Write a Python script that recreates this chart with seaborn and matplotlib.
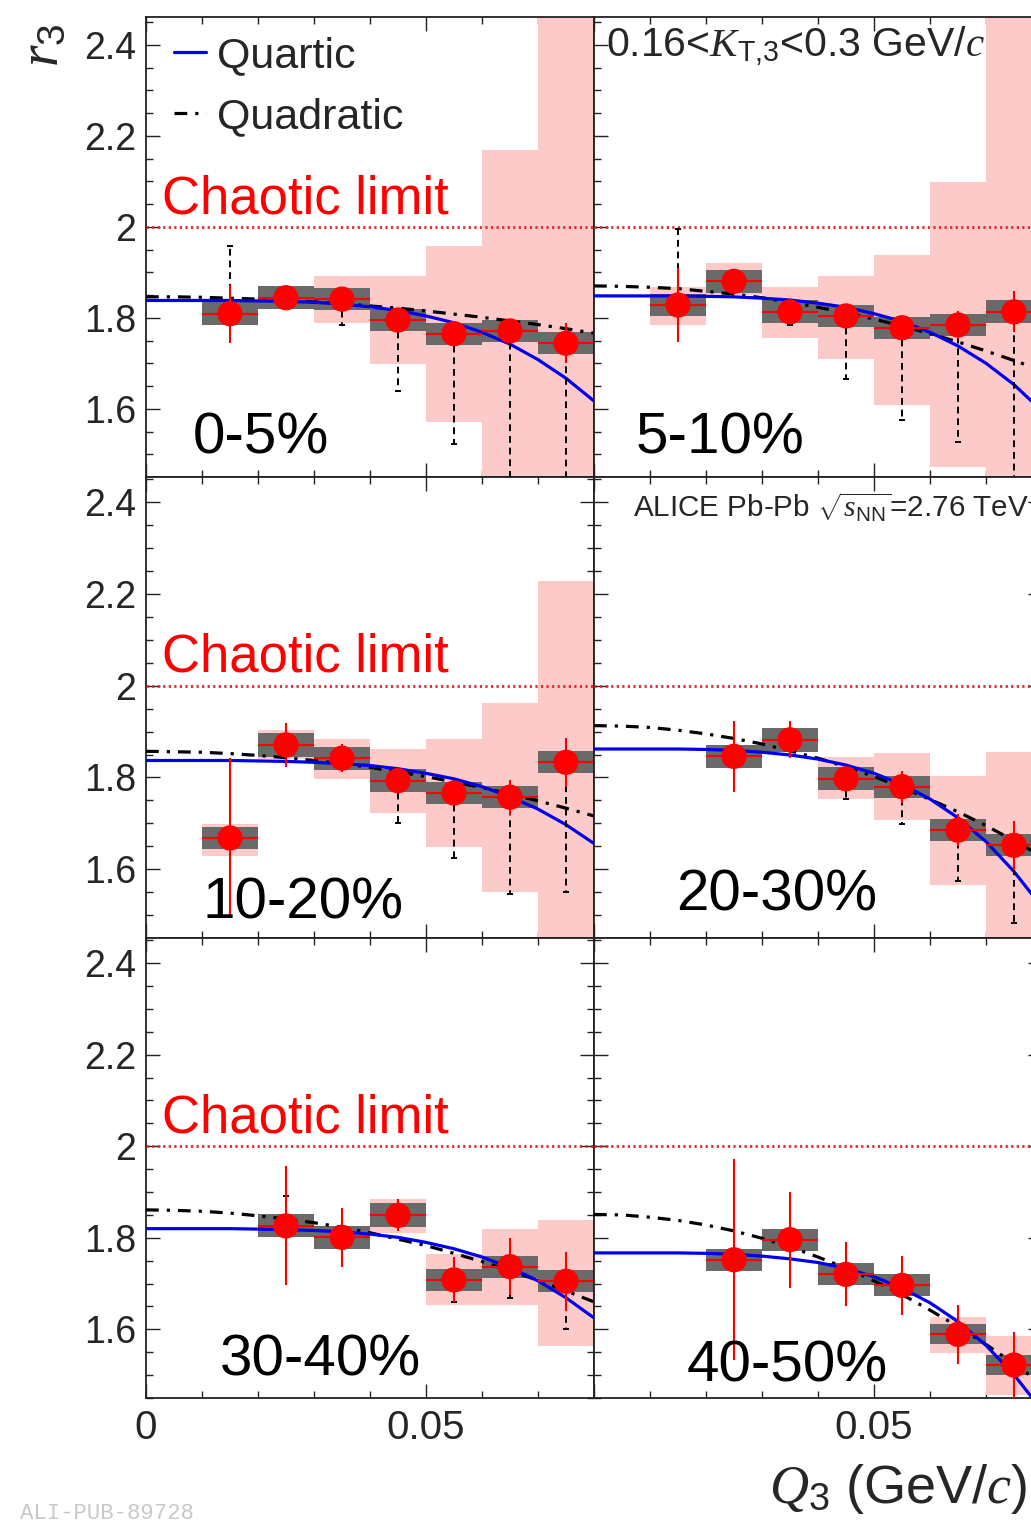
import numpy as np
import matplotlib
matplotlib.use("Agg")
import matplotlib.pyplot as plt
import seaborn as sns
from matplotlib.ticker import FixedLocator, MultipleLocator, FuncFormatter

sns.set_theme(style="ticks")
plt.rcParams['font.family'] = ['Liberation Sans', 'DejaVu Sans']
plt.rcParams['mathtext.fontset'] = 'custom'
plt.rcParams['mathtext.rm'] = 'Liberation Sans'
plt.rcParams['mathtext.it'] = 'Liberation Serif:italic'
plt.rcParams['mathtext.bf'] = 'Liberation Sans:bold'

nan = np.nan

# ---------------- data ----------------
centralities = ['0-5%', '5-10%', '10-20%', '20-30%', '30-40%', '40-50%']
q_centers = [0.015, 0.025, 0.035, 0.045, 0.055, 0.065, 0.075]
bin_width = 0.01

r3_values = [
    [1.809, 1.844, 1.841, 1.795, 1.765, 1.771, 1.744],
    [1.828, 1.880, 1.813, 1.804, 1.778, 1.784, 1.813],
    [1.668, 1.871, 1.842, 1.793, 1.766, 1.757, 1.833],
    [nan, 1.846, 1.882, 1.797, 1.780, 1.685, 1.652],
    [nan, 1.826, 1.801, 1.849, 1.708, 1.737, 1.705],
    [nan, 1.752, 1.796, 1.720, 1.696, 1.589, 1.522],
]
stat_err = [
    [0.064, 0.020, 0.020, 0.020, 0.020, 0.025, 0.044],
    [0.082, 0.026, 0.020, 0.020, 0.020, 0.030, 0.045],
    [0.175, 0.048, 0.030, 0.020, 0.020, 0.038, 0.053],
    [nan, 0.078, 0.040, 0.020, 0.035, 0.035, 0.053],
    [nan, 0.130, 0.065, 0.035, 0.049, 0.062, 0.064],
    [nan, 0.220, 0.105, 0.070, 0.064, 0.065, 0.072],
]
sys_err = [
    [0.025, 0.025, 0.025, 0.025, 0.024, 0.024, 0.024],
    [0.025, 0.025, 0.025, 0.024, 0.024, 0.024, 0.025],
    [0.024, 0.026, 0.025, 0.025, 0.024, 0.024, 0.024],
    [nan, 0.025, 0.026, 0.025, 0.024, 0.024, 0.024],
    [nan, 0.025, 0.025, 0.026, 0.024, 0.024, 0.024],
    [nan, 0.024, 0.024, 0.024, 0.024, 0.022, 0.021],
]
# second (pink) systematic band: low / high edge per bin
pink_low = [
    [nan, nan, 1.788, 1.699, 1.570, 1.400, 1.400],
    [1.784, 1.850, 1.756, 1.710, 1.609, 1.471, 1.400],
    [1.628, 1.840, 1.797, 1.723, 1.649, 1.551, 1.400],
    [nan, nan, nan, 1.754, 1.707, 1.566, 1.400],
    [nan, nan, nan, 1.811, 1.653, 1.653, 1.563],
    [nan, nan, nan, nan, nan, 1.549, 1.457],
]
pink_high = [
    [nan, nan, 1.891, 1.891, 1.958, 2.168, 2.600],
    [1.868, 1.920, 1.868, 1.892, 1.939, 2.098, 2.600],
    [1.699, 1.903, 1.884, 1.861, 1.883, 1.963, 2.228],
    [nan, nan, nan, 1.845, 1.854, 1.803, 1.856],
    [nan, nan, nan, 1.884, 1.765, 1.819, 1.838],
    [nan, nan, nan, nan, nan, 1.628, 1.585],
]
# end point of the dashed black error bars
dash_end = [
    [1.958, nan, 1.784, 1.639, 1.523, 1.400, 1.400],
    [1.996, nan, 1.784, 1.666, 1.575, 1.527, 1.400],
    [nan, nan, nan, 1.701, 1.624, 1.545, 1.551],
    [nan, nan, nan, 1.752, 1.699, 1.574, 1.482],
    [nan, 1.891, nan, nan, 1.659, 1.668, 1.601],
    [nan, nan, nan, nan, nan, nan, nan],
]

q_fit = [0.0, 0.005, 0.01, 0.015, 0.02, 0.025, 0.03, 0.035, 0.04,
         0.045, 0.05, 0.055, 0.06, 0.065, 0.07, 0.075, 0.08]
quartic_fit = [
    [1.838, 1.838, 1.838, 1.838, 1.837, 1.836, 1.834, 1.830, 1.824, 1.816, 1.804, 1.789, 1.768, 1.742, 1.708, 1.667, 1.617],
    [1.848, 1.848, 1.848, 1.848, 1.847, 1.846, 1.843, 1.839, 1.832, 1.823, 1.809, 1.792, 1.768, 1.738, 1.700, 1.653, 1.595],
    [1.837, 1.837, 1.837, 1.837, 1.836, 1.835, 1.833, 1.830, 1.826, 1.819, 1.809, 1.797, 1.780, 1.758, 1.731, 1.697, 1.656],
    [1.862, 1.862, 1.862, 1.862, 1.861, 1.859, 1.855, 1.849, 1.840, 1.827, 1.809, 1.785, 1.753, 1.712, 1.660, 1.595, 1.517],
    [1.820, 1.820, 1.820, 1.820, 1.819, 1.818, 1.816, 1.813, 1.808, 1.801, 1.790, 1.776, 1.758, 1.735, 1.706, 1.669, 1.625],
    [1.767, 1.767, 1.767, 1.767, 1.766, 1.764, 1.760, 1.754, 1.746, 1.733, 1.715, 1.690, 1.658, 1.617, 1.565, 1.501, 1.423],
]
quadratic_fit = [
    [1.846, 1.846, 1.845, 1.843, 1.841, 1.838, 1.835, 1.831, 1.826, 1.821, 1.815, 1.808, 1.801, 1.793, 1.785, 1.776, 1.766],
    [1.870, 1.869, 1.867, 1.864, 1.858, 1.852, 1.844, 1.834, 1.823, 1.811, 1.797, 1.782, 1.765, 1.747, 1.727, 1.706, 1.684],
    [1.857, 1.856, 1.855, 1.852, 1.848, 1.843, 1.837, 1.830, 1.822, 1.812, 1.802, 1.790, 1.778, 1.764, 1.749, 1.733, 1.716],
    [1.913, 1.912, 1.909, 1.903, 1.895, 1.885, 1.873, 1.858, 1.842, 1.823, 1.802, 1.778, 1.752, 1.725, 1.695, 1.662, 1.628],
    [1.861, 1.860, 1.858, 1.854, 1.848, 1.841, 1.833, 1.823, 1.811, 1.797, 1.783, 1.766, 1.748, 1.728, 1.707, 1.684, 1.660],
    [1.851, 1.850, 1.845, 1.838, 1.828, 1.815, 1.799, 1.780, 1.758, 1.734, 1.706, 1.676, 1.642, 1.606, 1.567, 1.525, 1.480],
]
chaotic_limit = 2.0
y_ticks = [1.6, 1.8, 2.0, 2.2, 2.4]
x_ticks = [0.0, 0.05]

# label placement (data coords: x, baseline y)
cent_pos = [(0.0084, 1.502), (0.0075, 1.501), (0.0101, 1.493),
            (0.0147, 1.511), (0.0132, 1.500), (0.0165, 1.485)]

# ---------------- figure ----------------
W, H = 1031, 1521
fig = plt.figure(figsize=(W / 100, H / 100), dpi=100)
col_left = [146, 594]
row_top = [17, 477, 938]
row_h = [460, 461, 460]
y_top = [2.461, 2.455, 2.455]
ax_w = 448

PINK = '#fdcaca'
GRAY = '#6a6a6a'
BLUE = '#0000ee'

for i, cent in enumerate(centralities):
    r, c = divmod(i, 2)
    ax = fig.add_axes([col_left[c] / W, 1 - (row_top[r] + row_h[r]) / H,
                       ax_w / W, row_h[r] / H])
    ax.set_xlim(0, 0.08)
    ax.set_ylim(1.45, y_top[r])

    q = np.array(q_centers)
    v = np.array(r3_values[i], dtype=float)
    st = np.array(stat_err[i], dtype=float)
    sy = np.array(sys_err[i], dtype=float)
    pl = np.array(pink_low[i], dtype=float)
    ph = np.array(pink_high[i], dtype=float)
    de = np.array(dash_end[i], dtype=float)

    m = ~np.isnan(pl)
    ax.bar(q[m], ph[m] - pl[m], bottom=pl[m], width=bin_width,
           color=PINK, edgecolor='none', zorder=1)
    m = ~np.isnan(v)
    ax.bar(q[m], 2 * sy[m], bottom=v[m] - sy[m], width=bin_width,
           color=GRAY, edgecolor='none', zorder=2)

    ax.axhline(chaotic_limit, color='#e8242a', lw=2.0,
               ls=(0, (0.8, 1.2)), zorder=3)

    sns.lineplot(x=q_fit, y=quadratic_fit[i], ax=ax, color='black', lw=2.3,
                 linestyle=(0, (4, 2.5, 1, 2.5)), zorder=4,
                 label='Quadratic' if i == 0 else None, legend=False)
    sns.lineplot(x=q_fit, y=quartic_fit[i], ax=ax, color=BLUE, lw=2.3,
                 zorder=4, label='Quartic' if i == 0 else None, legend=False)

    md = ~np.isnan(de) & ~np.isnan(v)
    ax.vlines(q[md], v[md], de[md], colors='black', lw=1.4,
              linestyles=(0, (3.5, 2.5)), zorder=5)
    ax.hlines(de[md], q[md] - 0.0006, q[md] + 0.0006, colors='black',
              lw=1.4, zorder=5)

    ax.errorbar(q[m], v[m], yerr=st[m], xerr=bin_width / 2, fmt='none',
                ecolor='#ff0000', elinewidth=1.5, capsize=0, zorder=6)
    sns.scatterplot(x=q[m], y=v[m], ax=ax, color='#ff0000', s=330,
                    edgecolor='none', zorder=7, legend=False)

    # ticks
    ax.xaxis.set_major_locator(FixedLocator(x_ticks))
    ax.xaxis.set_minor_locator(MultipleLocator(0.01))
    ax.yaxis.set_major_locator(FixedLocator(y_ticks))
    ax.yaxis.set_minor_locator(MultipleLocator(0.05))
    ax.tick_params(which='both', direction='in', top=True, right=True,
                   width=1.0, color='#222222')
    ax.tick_params(which='major', length=10, pad=7)
    ax.tick_params(axis='y', which='major', labelsize=27)
    ax.tick_params(axis='x', which='major', labelsize=29, pad=8)
    ax.tick_params(which='minor', length=5)
    ax.yaxis.set_major_formatter(FuncFormatter(lambda val, p: f'{val:g}'))
    if c == 0:
        ax.xaxis.set_major_formatter(FuncFormatter(lambda val, p: f'{val:g}'))
    else:
        ax.xaxis.set_major_formatter(
            FuncFormatter(lambda val, p: '' if abs(val) < 1e-9 else f'{val:g}'))
    ax.tick_params(labelbottom=(r == 2), labelleft=(c == 0))
    for s in ax.spines.values():
        s.set_color('#222222')
        s.set_linewidth(1.3)

    # texts
    if c == 0:
        ax.text(0.0028, 2.03, 'Chaotic limit', color='#ff0000', fontsize=38,
                ha='left', va='baseline', zorder=8)
    cx, cy = cent_pos[i]
    ax.text(cx, cy, cent, color='black', fontsize=42, ha='left',
            va='baseline', zorder=8)

    if i == 0:
        handles, labels = ax.get_legend_handles_labels()
        order = [labels.index('Quartic'), labels.index('Quadratic')]
        ax.legend([handles[k] for k in order], [labels[k] for k in order],
                  loc='upper left', bbox_to_anchor=(0.062, 0.958),
                  frameon=False, fontsize=31, handlelength=0.75,
                  handletextpad=0.25, labelspacing=0.48, borderpad=0,
                  borderaxespad=0)

fig.text(606 / W, 1 - 57 / H, r'0.16<$K_{\rm T{,}3}$<0.3 GeV/$c$',
         fontsize=29.5, ha='left', va='baseline')
fig.text(633 / W, 1 - 518 / H, r'ALICE Pb-Pb $\sqrt{s_{\rm NN}}$=2.76 TeV',
         fontsize=21.3, ha='left', va='baseline')
fig.text(44 / W, 1 - 45 / H, r'$r_{3}$', fontsize=40, rotation=90,
         ha='center', va='center')
fig.text(1027 / W, 1 - 1503 / H, r'$Q_{3}$ (GeV/$c$)', fontsize=39,
         ha='right', va='baseline')
fig.text(20 / W, 1 - 1503 / H, 'ALI-PUB-89728', fontsize=16,
         family='Liberation Mono', color='#c8c8c8', ha='left', va='top')

fig.savefig('out.png', dpi=100)
